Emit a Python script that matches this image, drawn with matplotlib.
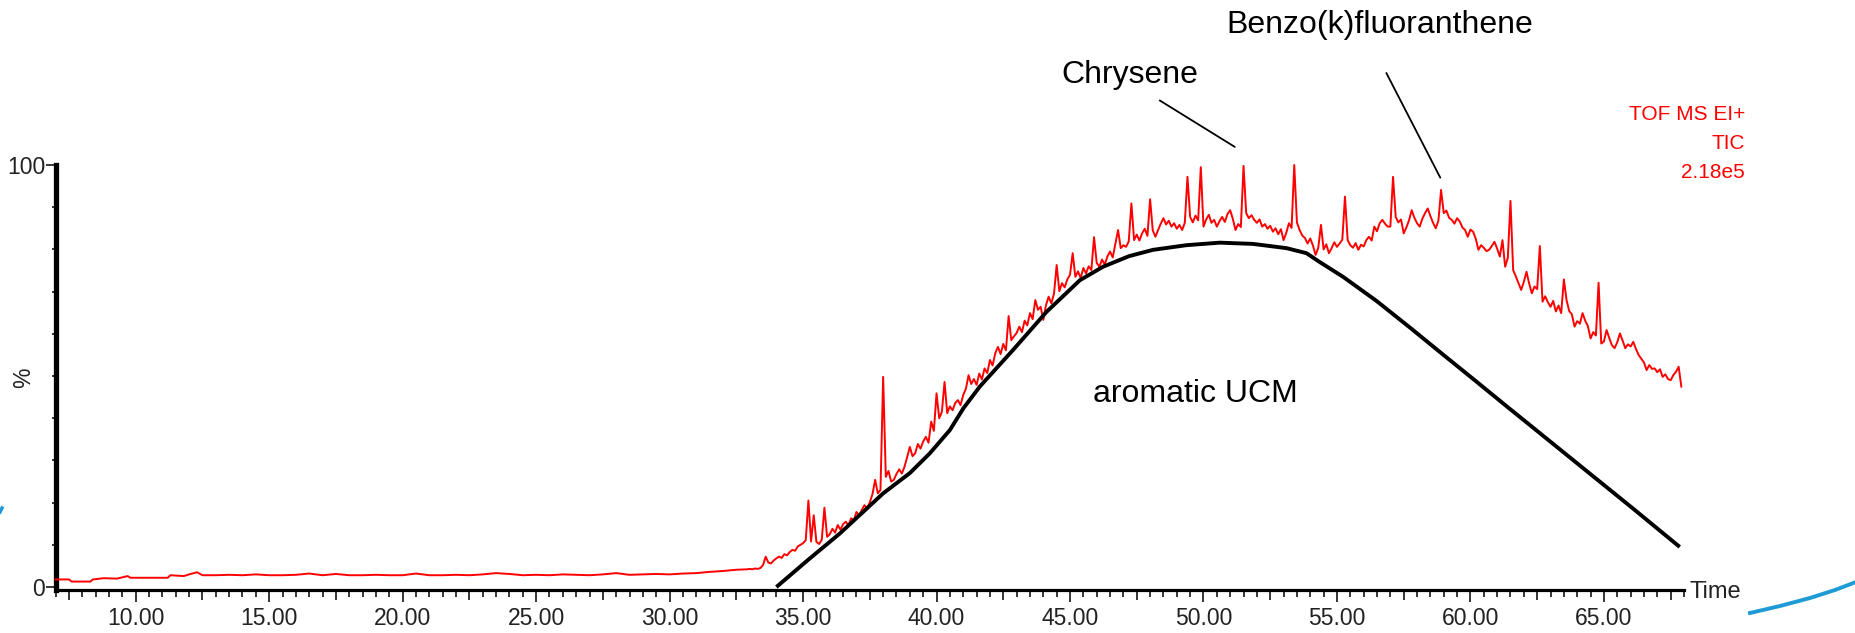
import matplotlib
matplotlib.use("Agg")
import numpy as np
import matplotlib.pyplot as plt
from matplotlib.lines import Line2D
from matplotlib.ticker import MultipleLocator, FixedLocator

# flat early part of the TIC trace (time in min, % of 2.18e5)
flat_time = [
    7.0, 7.5, 7.6, 8.3, 8.4, 8.8, 9.3, 9.7, 9.8, 10.5, 11.2, 11.3, 11.8, 12.0,
    12.3, 12.5, 13.0, 13.5, 14.0, 14.5, 15.0, 15.5, 16.0, 16.5, 17.0, 17.5,
    18.0, 18.5, 19.0, 19.5, 20.0, 20.5, 21.0, 21.5, 22.0, 22.5, 23.0, 23.5,
    24.0, 24.5, 25.0, 25.5, 26.0, 26.5, 27.0, 27.5, 28.0, 28.5, 29.0, 29.5,
    30.0, 30.5, 31.0, 31.5, 32.0, 32.5, 32.9,
]
flat_pct = [
    1.8, 1.8, 1.3, 1.3, 1.8, 2.1, 2.0, 2.6, 2.2, 2.2, 2.2, 2.8, 2.6, 3.0,
    3.5, 2.8, 2.8, 2.9, 2.8, 3.0, 2.8, 2.8, 2.9, 3.2, 2.8, 3.1,
    2.8, 2.8, 2.9, 2.8, 2.8, 3.2, 2.8, 2.8, 2.9, 2.8, 3.0, 3.3,
    3.1, 2.8, 2.9, 2.8, 3.0, 2.9, 2.8, 3.0, 3.3, 2.9, 3.0, 3.1,
    3.0, 3.2, 3.3, 3.6, 3.8, 4.1, 4.2,
]

# hump part, one value every 0.1 min from 33.0 to 67.9, one row per minute
hump_start = 33.0
hump_pct = [
    4.3, 4.2, 4.4, 4.3, 4.5, 5.2, 7.2, 5.8, 5.6, 6.3,
    6.8, 7.2, 6.9, 7.8, 7.5, 8.3, 8.8, 8.6, 9.6, 10.0,
    10.4, 11.1, 20.5, 10.8, 17.0, 10.7, 10.2, 11.2, 18.8, 11.9,
    12.5, 13.8, 12.9, 14.7, 13.6, 14.9, 15.5, 14.6, 16.3, 15.8,
    17.8, 16.9, 18.3, 19.4, 18.6, 20.1, 22.0, 25.4, 22.2, 23.0,
    49.8, 26.1, 27.5, 25.0, 25.4, 26.8, 27.9, 26.9, 28.5, 30.8,
    33.2, 31.0, 31.7, 33.9, 32.8, 34.5, 35.6, 34.2, 39.2, 37.0,
    45.9, 40.0, 41.5, 48.6, 41.2, 42.8, 41.9, 43.6, 44.3, 43.1,
    45.5, 47.0, 50.2, 48.1, 49.3, 47.9, 50.6, 49.2, 51.8, 50.7,
    53.8, 52.5, 55.4, 56.9, 55.2, 57.6, 56.1, 64.2, 58.5, 59.4,
    60.2, 61.7, 60.4, 63.1, 62.0, 64.9, 63.5, 68.0, 65.7, 66.4,
    63.3, 66.8, 68.8, 67.2, 69.5, 76.3, 70.1, 72.0, 71.0, 72.9,
    74.0, 79.1, 73.5, 74.8, 73.2, 75.6, 74.3, 76.0, 75.1, 82.9,
    76.8, 75.9, 77.6, 76.4, 78.3, 79.5, 78.1, 81.4, 84.6, 80.3,
    81.0, 80.6, 81.9, 90.9, 82.2, 83.5, 82.1, 83.8, 84.9, 83.2,
    91.9, 84.5, 83.0, 84.6, 86.1, 87.4, 85.9, 86.8, 85.4, 86.2,
    84.9, 85.8, 84.6, 86.3, 97.2, 87.7, 86.4, 88.0, 86.9, 99.5,
    85.4, 87.1, 88.2, 86.3, 87.0, 85.4, 86.7, 87.7, 86.5, 88.4,
    89.3, 87.2, 84.6, 86.0, 85.3, 99.8, 88.6, 87.4, 88.1, 87.0,
    86.3, 87.1, 85.4, 86.0, 84.9, 85.6, 84.2, 85.0, 83.6, 84.8,
    82.2, 83.9, 86.2, 85.1, 100.0, 86.4, 84.6, 83.3, 82.7, 81.4,
    82.6, 80.9, 78.7, 80.4, 85.8, 80.0, 81.2, 79.1, 80.3, 81.7,
    80.6, 81.4, 82.3, 92.5, 82.2, 81.0, 80.4, 81.5, 79.9, 81.1,
    80.7, 82.2, 83.0, 82.1, 85.4, 84.3, 86.2, 87.0, 86.1, 85.4,
    85.4, 97.2, 87.7, 86.4, 87.1, 83.8, 85.2, 86.9, 89.3, 87.5,
    86.2, 85.4, 87.3, 88.6, 89.7, 87.9, 86.3, 85.0, 86.8, 94.1,
    88.6, 89.2, 87.5, 87.0, 86.1, 87.4, 86.6, 85.2, 84.6, 83.0,
    84.7, 84.2, 82.5, 79.9, 81.0, 80.4, 79.6, 79.9, 80.8, 81.8,
    80.2, 78.3, 82.2, 75.9, 78.0, 91.5, 75.1, 73.6, 72.0, 70.4,
    72.3, 74.7, 71.9, 69.6, 71.2, 70.6, 80.8, 67.6, 68.9, 67.5,
    66.4, 67.8, 65.3, 66.7, 64.9, 72.9, 68.0, 65.4, 64.6, 61.7,
    63.0, 62.4, 64.9, 63.1, 61.8, 58.9, 60.4, 59.6, 72.1, 57.7,
    58.2, 60.9, 59.0, 57.3, 56.6, 58.0, 60.1, 58.4, 56.6, 57.5,
    57.0, 58.1, 56.4, 55.0, 54.1, 53.2, 51.4, 52.6, 51.7, 51.8,
    50.9, 51.6, 49.8, 50.4, 49.3, 49.0, 50.2, 51.0, 52.2, 47.5,
]

# hand-drawn UCM envelope
ucm_time = [
    34.0, 35.2, 36.38, 38.0, 39.0, 39.75, 40.5, 41.0, 41.62, 42.87, 44.12,
    45.37, 46.24, 47.21, 48.11, 49.36, 50.61, 51.86, 53.11, 53.86, 54.33,
    55.23, 56.48, 57.73, 58.97, 60.22, 61.44, 62.34, 63.59, 64.84, 66.09,
    67.84,
]
ucm_pct = [
    0.0, 6.5, 12.7, 22.2, 27.0, 31.7, 37.2, 42.3, 47.5, 56.2, 65.2,
    72.7, 75.9, 78.4, 79.9, 81.0, 81.6, 81.3, 80.3, 79.1, 77.1,
    73.5, 67.8, 61.5, 55.1, 48.7, 42.4, 37.8, 31.4, 25.0, 18.6,
    9.5,
]

major_ticks = [10, 15, 20, 25, 30, 35, 40, 45, 50, 55, 60, 65]
major_labels = ["%.2f" % t for t in major_ticks]

peak_names = ["Chrysene", "Benzo(k)fluoranthene"]
peak_label_xy = [(47.24, 121.3), (56.6, 133.2)]
peak_line_start = [(48.36, 115.3), (56.85, 121.8)]
peak_line_end = [(51.17, 104.3), (58.87, 97.0)]

header_lines = ["TOF MS EI+", "TIC", "2.18e5"]

# stray arrow fragments on the slide, in figure pixels
blue_right_x = [1750, 1780, 1810, 1835, 1856]
blue_right_y = [613, 606, 598, 590, 582]
blue_left_x = [0, 2]
blue_left_y = [512, 508]

W, H = 1856, 633
TICK_FONT = ["Liberation Sans Narrow", "Liberation Sans", "DejaVu Sans"]
TEXT_FONT = ["Liberation Sans", "DejaVu Sans"]


def draw():
    hump_time = np.round(hump_start + 0.1 * np.arange(len(hump_pct)), 1)
    time_min = list(flat_time) + list(hump_time)
    tic_pct = list(flat_pct) + list(hump_pct)

    fig = plt.figure(figsize=(W / 100, H / 100), dpi=100)
    left, right = 55.6 / W, 1684 / W
    bottom, top = 1 - 590 / H, 1 - 165 / H
    ax = fig.add_axes([left, bottom, right - left, top - bottom])

    ax.plot(time_min, tic_pct, color="#ff0000", lw=1.4, clip_on=False, zorder=3)
    ax.plot(ucm_time, ucm_pct, color="black", lw=2.8, solid_capstyle="butt",
            solid_joinstyle="round", clip_on=False, zorder=4)

    ax.set_xlim(7, 68)
    ax.set_ylim(-0.7, 100)

    for side in ["top", "right"]:
        ax.spines[side].set_visible(False)
    ax.spines["left"].set_linewidth(3.8)
    ax.spines["bottom"].set_linewidth(2.3)

    # x axis: labelled every 5, medium every 2.5, small every 0.5
    ax.xaxis.set_major_locator(FixedLocator(major_ticks))
    ax.set_xticklabels(major_labels, family=TICK_FONT, fontsize=16.5, color="#222222")
    ax.xaxis.set_minor_locator(MultipleLocator(0.5))
    ax.tick_params(axis="x", which="major", direction="out", length=8.5, width=1.1, pad=4)
    ax.tick_params(axis="x", which="minor", direction="out", length=4.8, width=1.1)
    locs = ax.xaxis.get_minorticklocs()
    for tk, loc in zip(ax.xaxis.get_minor_ticks(len(locs)), locs):
        if abs(loc / 2.5 - round(loc / 2.5)) < 1e-6:
            tk.tick1line.set_markersize(7.5)

    # y axis: only 0 and 100 labelled, small ticks every 10
    ax.set_yticks([0, 100])
    ax.set_yticklabels(["0", "100"], family=TICK_FONT, fontsize=16.5, color="#222222")
    ax.yaxis.set_minor_locator(MultipleLocator(10))
    ax.tick_params(axis="y", which="major", direction="out", length=7, width=1.1, pad=0.5)
    ax.tick_params(axis="y", which="minor", direction="out", length=3.2, width=1.1)
    ax.set_ylabel("%", family=TICK_FONT, fontsize=16.5, color="#222222")
    ax.yaxis.set_label_coords((35 - 55.6) / (1684 - 55.6), 0.5)

    fig.text(1690 / W, 1 - 592 / H, "Time", family=TICK_FONT, fontsize=17,
             color="#222222", ha="left", va="center")

    for name, xy, p0, p1 in zip(peak_names, peak_label_xy, peak_line_start, peak_line_end):
        ax.text(xy[0], xy[1], name, family=TEXT_FONT, fontsize=23, ha="center",
                va="center", clip_on=False)
        ax.annotate("", xy=p1, xytext=p0, annotation_clip=False,
                    arrowprops=dict(arrowstyle="-", color="black", lw=1.3,
                                    shrinkA=0, shrinkB=0))

    ax.text(49.69, 45.7, "aromatic UCM", family=TEXT_FONT, fontsize=23,
            ha="center", va="center")

    for i, line in enumerate(header_lines):
        fig.text(1745 / W, 1 - (115 + 28.5 * i) / H, line, family=TEXT_FONT,
                 fontsize=15, color="#ff0000", ha="right", va="center")

    fig.add_artist(Line2D([x / W for x in blue_right_x], [1 - y / H for y in blue_right_y],
                          color="#1e9ad6", lw=2.8))
    fig.add_artist(Line2D([x / W for x in blue_left_x], [1 - y / H for y in blue_left_y],
                          color="#1e9ad6", lw=2.5))

    fig.savefig("out.png", dpi=100)
    plt.close(fig)


def main():
    draw()


if __name__ == "__main__":
    main()
